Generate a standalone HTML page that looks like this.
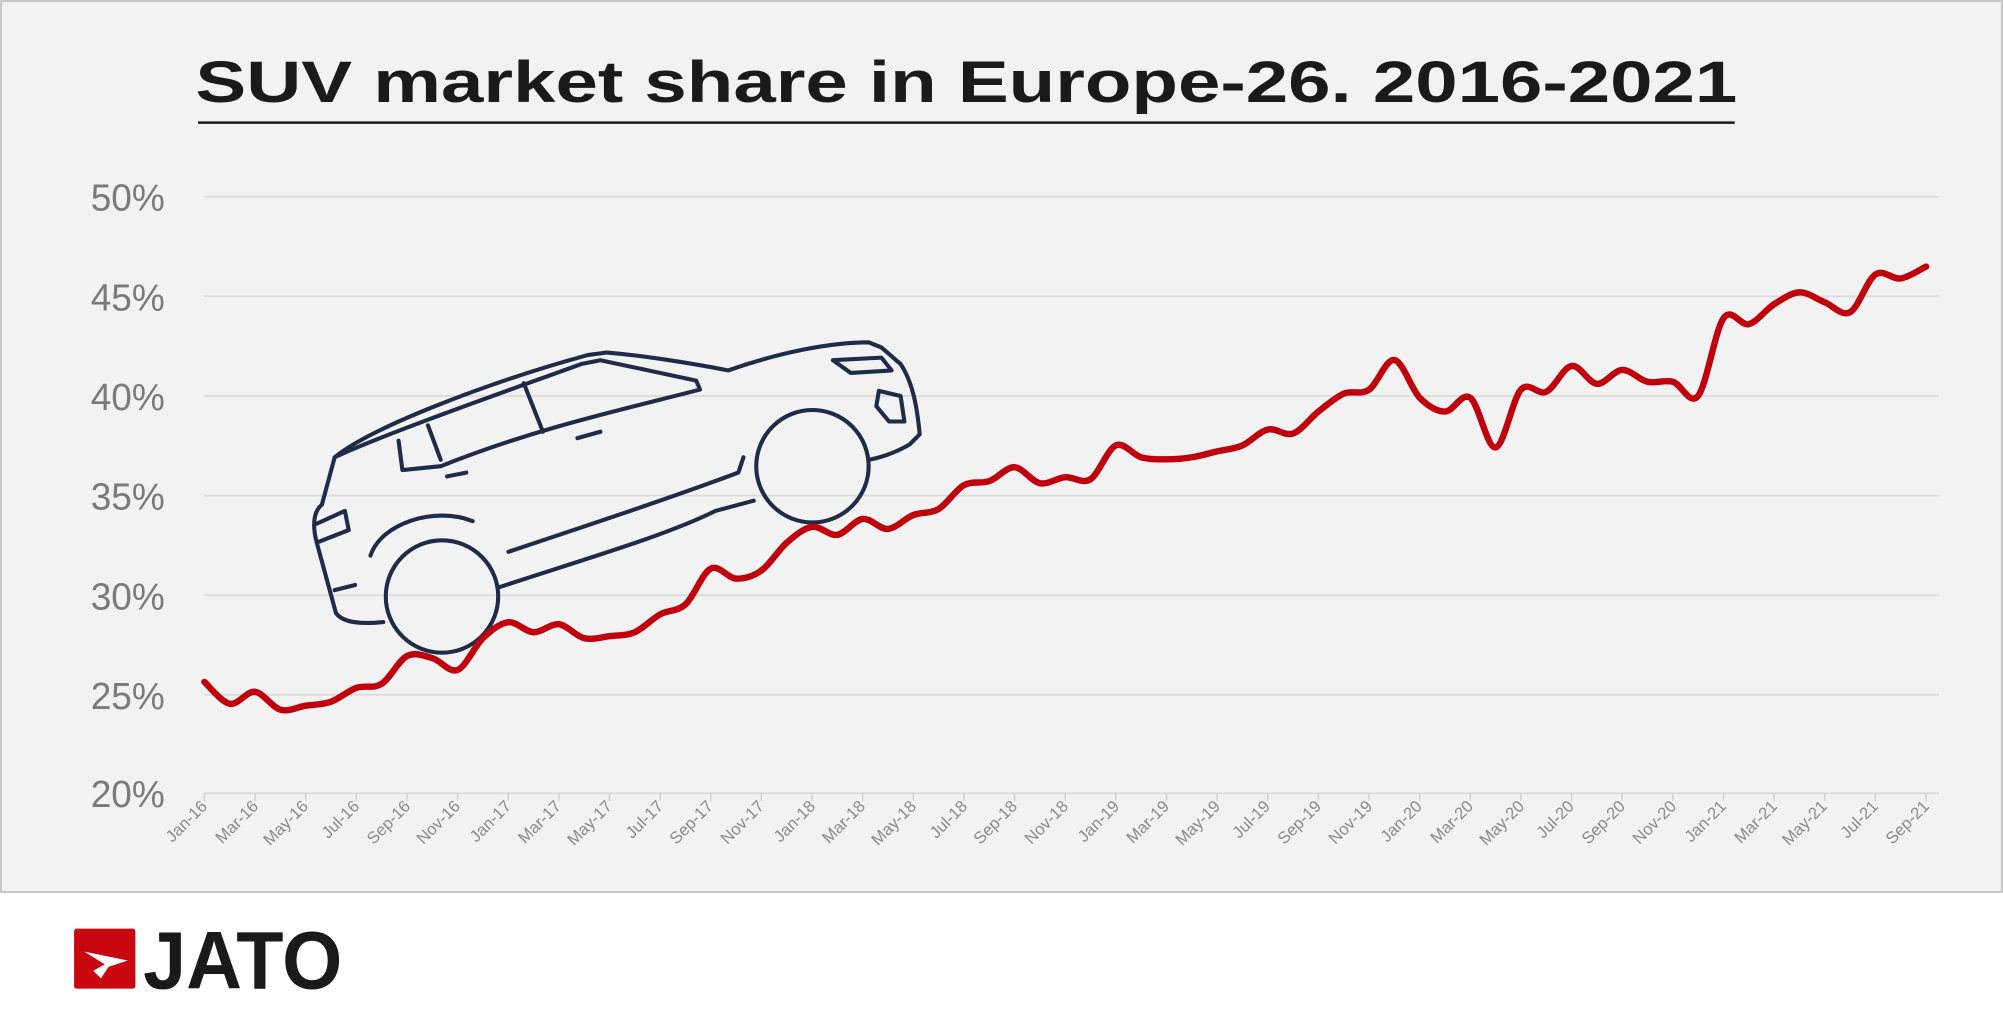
<!DOCTYPE html>
<html><head><meta charset="utf-8"><style>
html,body{margin:0;padding:0;background:#fff;}
svg{display:block;}
</style></head><body>
<svg id="s" width="2003" height="1018" viewBox="0 0 1568 797" preserveAspectRatio="none" xmlns="http://www.w3.org/2000/svg">
<rect x="0" y="0" width="1568" height="699" fill="#f2f2f2"/>
<rect x="0.8" y="0.8" width="1566.4" height="697.5" fill="none" stroke="#c8c8c8" stroke-width="1.6"/>
<text x="153" y="80" font-family="Liberation Sans, Arial, sans-serif" font-weight="bold" font-size="46" fill="#1a1a1a" textLength="1207" lengthAdjust="spacingAndGlyphs">SUV market share in Europe-26. 2016-2021</text>
<line x1="155" y1="96" x2="1358" y2="96" stroke="#1a1a1a" stroke-width="2"/>
<g stroke="#dcdcdc" stroke-width="1.5">
<line x1="160" y1="154" x2="1518" y2="154"/><line x1="160" y1="232" x2="1518" y2="232"/>
<line x1="160" y1="310" x2="1518" y2="310"/><line x1="160" y1="388" x2="1518" y2="388"/>
<line x1="160" y1="466" x2="1518" y2="466"/><line x1="160" y1="544" x2="1518" y2="544"/>
<line x1="160" y1="621" x2="1518" y2="621"/>
</g>
<g font-family="Liberation Sans Narrow, Liberation Sans, Arial, sans-serif" font-size="30" fill="#7a7a7a" text-anchor="end">
<text x="129" y="165" textLength="58" lengthAdjust="spacingAndGlyphs">50%</text>
<text x="129" y="243" textLength="58" lengthAdjust="spacingAndGlyphs">45%</text>
<text x="129" y="321" textLength="58" lengthAdjust="spacingAndGlyphs">40%</text>
<text x="129" y="399" textLength="58" lengthAdjust="spacingAndGlyphs">35%</text>
<text x="129" y="477" textLength="58" lengthAdjust="spacingAndGlyphs">30%</text>
<text x="129" y="555" textLength="58" lengthAdjust="spacingAndGlyphs">25%</text>
<text x="129" y="632" textLength="58" lengthAdjust="spacingAndGlyphs">20%</text>
</g>
<g id="ticks" stroke="#d0d0d0" stroke-width="1.2"></g>
<g font-family="Liberation Sans, Arial, sans-serif" font-size="13" fill="#8a8a8a" text-anchor="end">
<text transform="translate(163,632) rotate(-45)">Jan-16</text>
<text transform="translate(203,632) rotate(-45)">Mar-16</text>
<text transform="translate(242,632) rotate(-45)">May-16</text>
<text transform="translate(282,632) rotate(-45)">Jul-16</text>
<text transform="translate(322,632) rotate(-45)">Sep-16</text>
<text transform="translate(361,632) rotate(-45)">Nov-16</text>
<text transform="translate(401,632) rotate(-45)">Jan-17</text>
<text transform="translate(440,632) rotate(-45)">Mar-17</text>
<text transform="translate(480,632) rotate(-45)">May-17</text>
<text transform="translate(520,632) rotate(-45)">Jul-17</text>
<text transform="translate(559,632) rotate(-45)">Sep-17</text>
<text transform="translate(599,632) rotate(-45)">Nov-17</text>
<text transform="translate(639,632) rotate(-45)">Jan-18</text>
<text transform="translate(678,632) rotate(-45)">Mar-18</text>
<text transform="translate(718,632) rotate(-45)">May-18</text>
<text transform="translate(758,632) rotate(-45)">Jul-18</text>
<text transform="translate(797,632) rotate(-45)">Sep-18</text>
<text transform="translate(837,632) rotate(-45)">Nov-18</text>
<text transform="translate(877,632) rotate(-45)">Jan-19</text>
<text transform="translate(916,632) rotate(-45)">Mar-19</text>
<text transform="translate(956,632) rotate(-45)">May-19</text>
<text transform="translate(995,632) rotate(-45)">Jul-19</text>
<text transform="translate(1035,632) rotate(-45)">Sep-19</text>
<text transform="translate(1075,632) rotate(-45)">Nov-19</text>
<text transform="translate(1114,632) rotate(-45)">Jan-20</text>
<text transform="translate(1154,632) rotate(-45)">Mar-20</text>
<text transform="translate(1194,632) rotate(-45)">May-20</text>
<text transform="translate(1233,632) rotate(-45)">Jul-20</text>
<text transform="translate(1273,632) rotate(-45)">Sep-20</text>
<text transform="translate(1313,632) rotate(-45)">Nov-20</text>
<text transform="translate(1352,632) rotate(-45)">Jan-21</text>
<text transform="translate(1392,632) rotate(-45)">Mar-21</text>
<text transform="translate(1431,632) rotate(-45)">May-21</text>
<text transform="translate(1471,632) rotate(-45)">Jul-21</text>
<text transform="translate(1511,632) rotate(-45)">Sep-21</text>
</g>
<!-- car -->
<g fill="none" stroke="#1f2b47" stroke-width="3.2" stroke-linecap="round" stroke-linejoin="round">
<path d="M300,487 C280,489 268,487 263,480 L248,425 C244,410 246,400 252,395 L262,358 C290,335 380,300 460,278 L475,276 C500,278 540,284 570,290 C610,276 650,268 680,268 L690,272 L705,285 C715,300 718,320 720,340 L712,348 C700,355 690,358 680,360"/>
<path d="M262,358 C300,340 400,305 455,285 L470,282 L545,298 L548,305 C490,320 420,335 345,365 L315,368 L312,345"/>
<path d="M335,333 L345,360 M410,300 L425,338"/>
<path d="M652,282 L690,280 L698,290 L666,292 Z"/>
<path d="M688,306 L705,310 L708,330 L696,330 L686,318 Z"/>
<path d="M248,410 L270,400 L273,415 L250,424"/>
<path d="M262,462 L278,458"/>
<path d="M290,435 C298,410 340,396 370,408"/>
<path d="M398,432 C470,408 530,388 578,370 L582,358"/>
<path d="M390,460 C450,440 520,420 560,400 L590,392"/>
<path d="M350,373 L365,370 M452,343 L470,338"/>
<circle cx="346" cy="467" r="44"/>
<circle cx="636" cy="365" r="44"/>
</g>
<path id="line" fill="none" stroke="#c0000c" stroke-width="5" stroke-linejoin="round" stroke-linecap="round" d=""/>
<!-- logo -->
<rect x="58" y="727" width="48" height="47" rx="2" fill="#c8070f"/>
<path d="M66,745 L100,752 L85,757 L79,766 L73,760 L82,755 Z" fill="#fff"/>
<text x="112" y="774" font-family="Liberation Sans Narrow, Liberation Sans, Arial, sans-serif" font-weight="bold" font-size="64" fill="#1a1a1a" textLength="156" lengthAdjust="spacingAndGlyphs">JATO</text>
</svg>
<script>
var v=[25.6,24.5,25.1,24.2,24.4,24.6,25.3,25.5,26.9,26.8,26.2,27.8,28.6,28.1,28.5,27.8,27.9,28.1,29.0,29.5,31.3,30.8,31.2,32.6,33.4,33.0,33.8,33.3,34.0,34.3,35.5,35.7,36.4,35.6,35.9,35.8,37.5,36.9,36.8,36.9,37.2,37.5,38.3,38.1,39.2,40.1,40.3,41.8,39.9,39.2,39.9,37.4,40.3,40.2,41.5,40.6,41.3,40.7,40.7,40.0,43.9,43.6,44.6,45.2,44.7,44.2,46.1,45.9,46.5];
var P=v.map(function(a,i){return [160+19.82*i,621-(a-20)*15.56];});
var d="M"+P[0][0].toFixed(1)+","+P[0][1].toFixed(1);
for(var i=0;i<P.length-1;i++){var p0=P[i-1]||P[i],p1=P[i],p2=P[i+1],p3=P[i+2]||p2;
var c1=[p1[0]+(p2[0]-p0[0])/6,p1[1]+(p2[1]-p0[1])/6],c2=[p2[0]-(p3[0]-p1[0])/6,p2[1]-(p3[1]-p1[1])/6];
d+=" C"+c1[0].toFixed(1)+","+c1[1].toFixed(1)+" "+c2[0].toFixed(1)+","+c2[1].toFixed(1)+" "+p2[0].toFixed(1)+","+p2[1].toFixed(1);}
document.getElementById("line").setAttribute("d",d);
var g=document.getElementById("ticks"),h="";
for(var i=0;i<=68;i+=2){var x=(160+19.82*i).toFixed(1);h+='<line x1="'+x+'" y1="621" x2="'+x+'" y2="627"/>';}
g.innerHTML=h;
</script>
</body></html>
